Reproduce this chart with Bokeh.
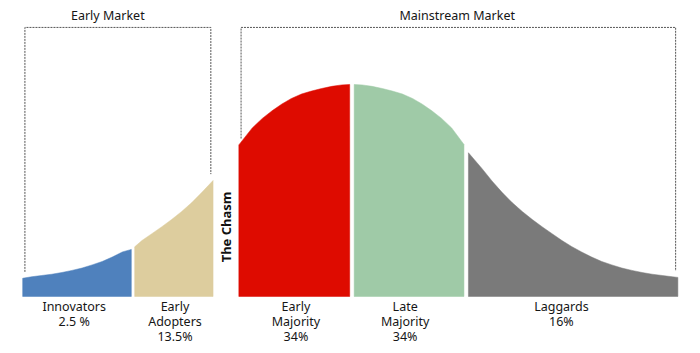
from bokeh.plotting import figure
from bokeh.models import Range1d
from bokeh.core.properties import value
from bokeh.embed import file_html
from bokeh.resources import INLINE

# ---- data: adoption curve ----
# x in standard deviations from the mean, y in % of peak height
innovators_x = [-2.94, -2.86, -2.77, -2.68, -2.59, -2.50, -2.41, -2.32, -2.23, -2.14, -2.05, -1.97]
innovators_y = [8.6, 9.3, 9.9, 10.5, 11.3, 12.3, 13.4, 14.9, 16.5, 18.6, 21.0, 22.2]

early_adopters_x = [-1.94, -1.875, -1.79, -1.70, -1.61, -1.52, -1.43, -1.34, -1.24]
early_adopters_y = [23.4, 26.4, 29.5, 32.8, 36.3, 40.1, 44.3, 49.1, 54.7]

early_majority_x = [-1.01, -0.89, -0.80, -0.71, -0.625, -0.54, -0.45, -0.36, -0.27, -0.18, -0.09, -0.02]
early_majority_y = [71.5, 79.5, 84.0, 87.7, 90.8, 93.4, 95.5, 96.9, 98.1, 99.1, 99.8, 100.0]

late_majority_x = [0.02, 0.09, 0.18, 0.27, 0.36, 0.45, 0.54, 0.625, 0.71, 0.80, 0.89, 1.00]
late_majority_y = [100.0, 99.8, 99.1, 98.1, 96.9, 95.5, 93.4, 90.8, 87.7, 84.0, 79.5, 71.7]

laggards_x = [1.04, 1.16, 1.25, 1.34, 1.43, 1.52, 1.61, 1.70, 1.79, 1.875, 1.96, 2.05,
              2.14, 2.23, 2.32, 2.41, 2.50, 2.59, 2.68, 2.77, 2.86, 2.91]
laggards_y = [67.8, 60.4, 54.5, 49.1, 44.3, 40.1, 36.3, 32.8, 29.5, 26.4, 23.6, 21.0,
              18.6, 16.5, 14.9, 13.4, 12.3, 11.3, 10.5, 9.9, 9.3, 9.0]

segment_names = ["Innovators", "Early\nAdopters", "Early\nMajority", "Late\nMajority", "Laggards"]
segment_shares = ["2.5 %", "13.5%", "34%", "34%", "16%"]
segment_colors = ["#4F81BD", "#DDCD9E", "#DE0B00", "#9FCAA7", "#7A7A7A"]
market_titles = ["Early Market", "Mainstream Market"]
chasm_label = "The Chasm"

segments_x = [innovators_x, early_adopters_x, early_majority_x, late_majority_x, laggards_x]
segments_y = [innovators_y, early_adopters_y, early_majority_y, late_majority_y, laggards_y]

# ---- layout ----
FONT = "Noto Sans"
TEXT_COLOR = "#161616"
label_x = [-2.48, -1.58, -0.50, 0.475, 1.87]
line_y = [-4.72, -11.79, -18.87]

p = figure(width=700, height=353, x_range=Range1d(-3.138, 3.112), y_range=Range1d(-26.9, 139.6),
           x_axis_type=None, y_axis_type=None, toolbar_location=None, output_backend="svg",
           min_border=0)
p.grid.visible = False
p.outline_line_color = None
p.background_fill_color = "white"
p.border_fill_color = "white"

# curve segments
for xs, ys, c in zip(segments_x, segments_y, segment_colors):
    px = [xs[0]] + list(xs) + [xs[-1]]
    py = [0] + list(ys) + [0]
    p.patch(px, py, fill_color=c, line_color=c, line_width=0.5)

# bottom labels, one text per line
lx, ly, lt = [], [], []
for x, n, s in zip(label_x, segment_names, segment_shares):
    lines = n.split("\n") + [s]
    for i, t in enumerate(lines):
        lx.append(x)
        ly.append(line_y[i])
        lt.append(t)
p.text(x=lx, y=ly, text=lt, text_font=value(FONT), text_font_size="12.5px",
       text_align="center", text_baseline="middle", text_color=TEXT_COLOR)

# brackets
top_y = 126.9
inset = 0.02
gap = 3.0
brackets = [
    (innovators_x[0] + inset, early_adopters_x[-1] - inset, innovators_y[0] + gap, early_adopters_y[-1] + gap),
    (early_majority_x[0] + inset, laggards_x[-1] - inset, early_majority_y[0] + gap, laggards_y[-1] + gap),
]
for (xl, xr, yl, yr) in brackets:
    p.line([xl, xl, xr, xr], [yl, top_y, top_y, yr], line_color="#555555", line_width=1,
           line_dash="2 1")

# market titles
p.text(x=[-2.18, 0.94], y=[132.5, 132.5], text=market_titles, text_font=value(FONT),
       text_font_size="12.5px", text_align="center", text_baseline="middle", text_color=TEXT_COLOR)

# chasm label
p.text(x=[-1.125], y=[32.8], text=[chasm_label], angle=1.5707963, text_font=value(FONT),
       text_font_size="13px", text_font_style="bold", text_align="center",
       text_baseline="middle", text_color="#111111")

open("out.html", "w").write(file_html(p, INLINE))
